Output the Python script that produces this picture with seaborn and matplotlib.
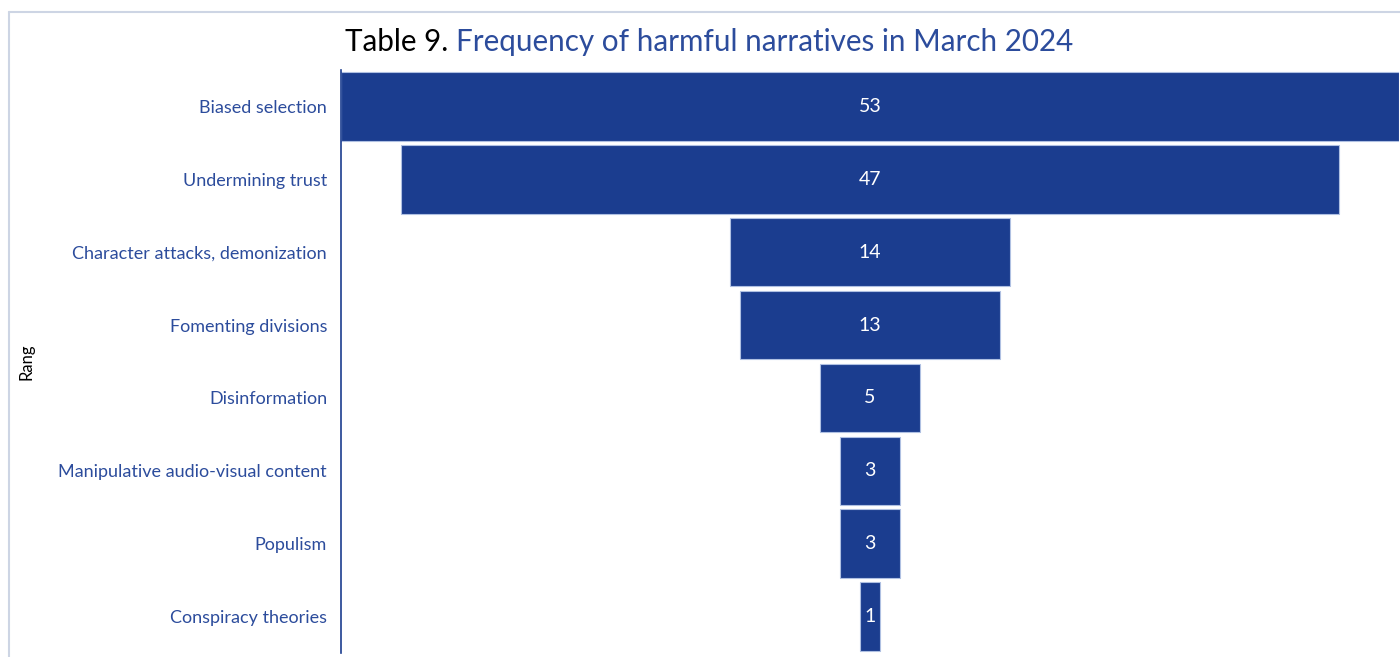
import matplotlib
matplotlib.use("Agg")
import matplotlib.pyplot as plt
from matplotlib.lines import Line2D
import seaborn as sns
import pandas as pd

categories = [
    "Biased selection",
    "Undermining trust",
    "Character attacks, demonization",
    "Fomenting divisions",
    "Disinformation",
    "Manipulative audio-visual content",
    "Populism",
    "Conspiracy theories",
]
counts = [53, 47, 14, 13, 5, 3, 3, 1]
title_prefix = "Table 9. "
title_main = "Frequency of harmful narratives in March 2024"
y_title = "Rang"

BAR = "#1B3D8F"
LABEL = "#2C4C9C"

sns.set_theme(style="white")
plt.rcParams["font.family"] = ["Lato", "DejaVu Sans"]

df = pd.DataFrame({"narrative": categories, "count": counts})

fig = plt.figure(figsize=(14, 6.57), dpi=100)
ax = fig.add_axes([341 / 1400, 4 / 657, 1058 / 1400, 583 / 657])

sns.barplot(data=df, x="count", y="narrative", orient="h", color=BAR,
            saturation=1, width=0.94, edgecolor="#AFC0E2", linewidth=0.8, ax=ax)

# centre each bar on zero to form a funnel
for patch, val in zip(ax.patches, df["count"]):
    w = patch.get_width()
    patch.set_x(-w / 2)
    cy = patch.get_y() + patch.get_height() / 2
    ax.text(0, cy, f"{val}", ha="center", va="center", color="white", fontsize=14)

half = max(counts) / 2
ax.set_xlim(-half, half)
ax.set_ylim(len(categories) - 0.5, -0.5)

ax.set_xlabel("")
ax.set_ylabel(y_title, fontsize=12, color="black", labelpad=0)
ax.yaxis.set_label_coords(-0.29, 0.5)
ax.set_xticks([])
ax.tick_params(axis="y", length=0, pad=10, labelsize=13, labelcolor=LABEL)

for side in ["top", "right", "bottom"]:
    ax.spines[side].set_visible(False)
ax.spines["left"].set_color(BAR)
ax.spines["left"].set_linewidth(1.2)

# title in two colours
t1 = fig.text(345 / 1400, 1 - 42 / 657, title_prefix, fontsize=21.3, color="black",
              ha="left", va="center")
fig.canvas.draw()
bb = t1.get_window_extent()
fig.text(bb.x1 / 1400, 1 - 42 / 657, title_main, fontsize=21.3, color=LABEL,
         ha="left", va="center")

# outer frame lines
frame = "#CDD5E4"
fig.add_artist(Line2D([9 / 1400, 9 / 1400], [0, 1 - 12 / 657], color=frame, lw=1.5))
fig.add_artist(Line2D([9 / 1400, 1], [1 - 12 / 657, 1 - 12 / 657], color=frame, lw=1.5))

fig.savefig("out.png", dpi=100)
